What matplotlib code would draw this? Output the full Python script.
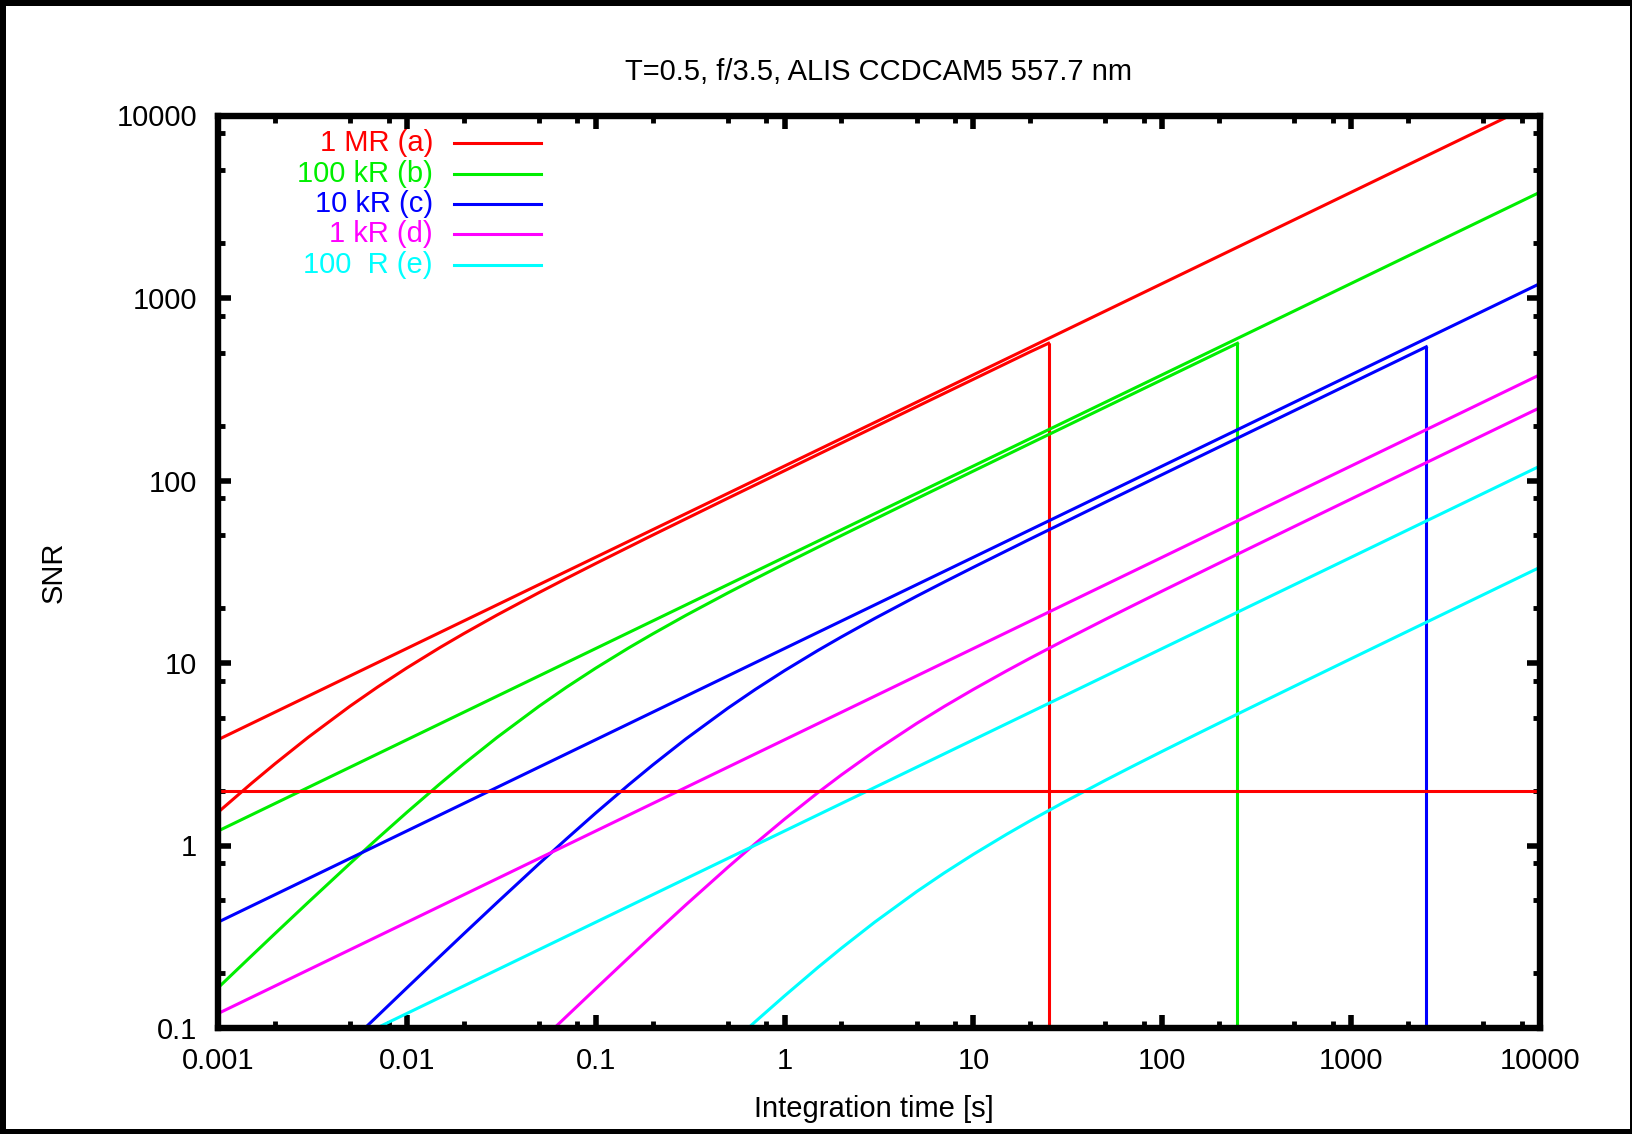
import matplotlib
matplotlib.use("Agg")
import matplotlib.pyplot as plt
from matplotlib.patches import Rectangle
from matplotlib.ticker import LogLocator, FuncFormatter, NullFormatter

plt.rcParams['font.family'] = ['Liberation Sans', 'DejaVu Sans']

# --- data ---
labels = ['1 MR (a)', '100 kR (b)', '10 kR (c)', '1 kR (d)', '100  R (e)']
colors = ['#ff0000', '#00ee00', '#0000ff', '#ff00ff', '#00ffff']

# ideal (photon-limited) straight lines, endpoints
t_ideal = [0.001, 10000]
snr_ideal_a = [3.8, 12000]
snr_ideal_b = [1.2, 3800]
snr_ideal_c = [0.38, 1200]
snr_ideal_d = [0.12, 380]
snr_ideal_e = [0.038, 120]

# realistic curves (last point = saturation for a, b, c)
t_a = [0.001, 0.0015, 0.002, 0.003, 0.005, 0.007, 0.01, 0.015, 0.02, 0.03, 0.05, 0.07,
       0.1, 0.2, 0.5, 1, 2, 5, 10, 20, 25]
snr_a = [1.52, 2.185, 2.80, 3.913, 5.80, 7.385, 9.40, 12.17, 14.48, 18.31, 24.29, 29.09,
         35.09, 50.18, 79.89, 113.2, 160.3, 253.7, 358.8, 507.5, 565]

t_b = [0.001, 0.0015, 0.002, 0.003, 0.005, 0.007, 0.01, 0.015, 0.02, 0.03, 0.05, 0.07,
       0.1, 0.15, 0.2, 0.3, 0.5, 0.7, 1, 2, 5, 10, 20, 50, 100, 200, 250]
snr_b = [0.166, 0.2477, 0.3286, 0.4877, 0.7965, 1.0936, 1.519, 2.182, 2.796, 3.906, 5.786, 7.364,
         9.37, 12.125, 14.42, 18.24, 24.19, 28.96, 34.94, 49.95, 79.51, 112.7, 159.6, 252.5,
         357.1, 505.1, 564.7]

t_c = [0.005, 0.007, 0.01, 0.015, 0.02, 0.03, 0.05, 0.07, 0.1, 0.15, 0.2, 0.3, 0.5, 0.7,
       1, 1.5, 2, 3, 5, 7, 10, 20, 50, 100, 200, 500, 1000, 2000, 2500]
snr_c = [0.0834, 0.1165, 0.1659, 0.2473, 0.3279, 0.4863, 0.793, 1.0868, 1.507, 2.157, 2.757,
         3.835, 5.649, 7.164, 9.084, 11.711, 13.90, 17.54, 23.21, 27.77, 33.47, 47.82, 76.07,
         107.8, 152.6, 241.4, 341.5, 483.0, 540.1]

t_d = [0.05, 0.07, 0.1, 0.15, 0.2, 0.3, 0.5, 0.7, 1, 1.5, 2, 3, 5, 7, 10, 15, 20, 30, 50, 70,
       100, 200, 500, 1000, 2000, 5000, 10000]
snr_d = [0.0830, 0.1157, 0.1642, 0.2437, 0.3216, 0.4728, 0.7586, 1.0251, 1.395, 1.947, 2.438,
         3.289, 4.662, 5.777, 7.169, 9.060, 10.635, 13.249, 17.35, 20.65, 24.80, 35.26, 55.94,
         79.20, 112.06, 177.25, 250.7]

t_e = [0.5, 0.7, 1, 1.5, 2, 3, 5, 7, 10, 15, 20, 30, 50, 70, 100, 150, 200, 300, 500, 1000,
       2000, 5000, 10000]
snr_e = [0.0791, 0.1084, 0.150, 0.2145, 0.2738, 0.3801, 0.5585, 0.7071, 0.895, 1.1524, 1.367,
         1.7223, 2.278, 2.7236, 3.282, 4.0455, 4.686, 5.758, 7.453, 10.56, 14.95, 23.65, 33.46]

saturates = [True, True, True, False, False]
snr_threshold = 2

ideal = [snr_ideal_a, snr_ideal_b, snr_ideal_c, snr_ideal_d, snr_ideal_e]
real_t = [t_a, t_b, t_c, t_d, t_e]
real_snr = [snr_a, snr_b, snr_c, snr_d, snr_e]

# --- figure ---
W, H = 1633, 1134
fig = plt.figure(figsize=(W / 100, H / 100), dpi=100)
fig.patch.set_facecolor('black')
fig.add_artist(Rectangle((6 / W, 5 / H), 1 - 9 / W, 1 - 11 / H, transform=fig.transFigure,
                         facecolor='white', edgecolor='none', zorder=-5))

ax = fig.add_axes([218 / W, 1 - 1028 / H, (1540 - 218) / W, (1028 - 115.5) / H])
ax.set_xscale('log')
ax.set_yscale('log')
ax.set_xlim(0.001, 10000)
ax.set_ylim(0.1, 10000)

lw = 2.2
for i in range(5):
    ax.plot(t_ideal, ideal[i], color=colors[i], lw=lw)
    ax.plot(real_t[i], real_snr[i], color=colors[i], lw=lw)
    if saturates[i]:
        ax.vlines(real_t[i][-1], 0.01, real_snr[i][-1], color=colors[i], lw=lw)
ax.axhline(snr_threshold, color='#ff0000', lw=lw)

# legend (gnuplot style: right-aligned text, sample to the right)
for i in range(5):
    y = 0.9698 - i * 0.0334
    ax.text(0.1626, y, labels[i], color=colors[i], fontsize=21, ha='right', va='center',
            transform=ax.transAxes)
    ax.plot([0.1785, 0.2441], [y, y], color=colors[i], lw=lw, transform=ax.transAxes)

# ticks
fmt = FuncFormatter(lambda v, p: '%g' % v)
ax.xaxis.set_major_locator(LogLocator(base=10, numticks=20))
ax.yaxis.set_major_locator(LogLocator(base=10, numticks=20))
ax.xaxis.set_minor_locator(LogLocator(base=10, subs=[2, 5, 8], numticks=20))
ax.yaxis.set_minor_locator(LogLocator(base=10, subs=[2, 5, 8], numticks=20))
ax.xaxis.set_major_formatter(fmt)
ax.yaxis.set_major_formatter(fmt)
ax.xaxis.set_minor_formatter(NullFormatter())
ax.yaxis.set_minor_formatter(NullFormatter())
ax.tick_params(which='both', direction='in', top=True, right=True, labelsize=21, colors='black')
ax.tick_params(which='major', length=9.5, width=4)
ax.tick_params(which='minor', length=5, width=3.5)
ax.tick_params(axis='x', which='major', pad=14)
ax.tick_params(axis='y', which='major', pad=15)
for s in ax.spines.values():
    s.set_linewidth(4.6)
    s.set_zorder(10)

fig.text(879 / W, 1 - 80 / H, 'T=0.5, f/3.5, ALIS CCDCAM5 557.7 nm', fontsize=21,
         ha='center', va='baseline')
fig.text(874 / W, 1 - 1117 / H, 'Integration time [s]', fontsize=21, ha='center', va='baseline')
fig.text(54 / W, 1 - 572 / H, 'SNR', fontsize=21, rotation=90, ha='center', va='center')

fig.savefig('out.png', dpi=100)
